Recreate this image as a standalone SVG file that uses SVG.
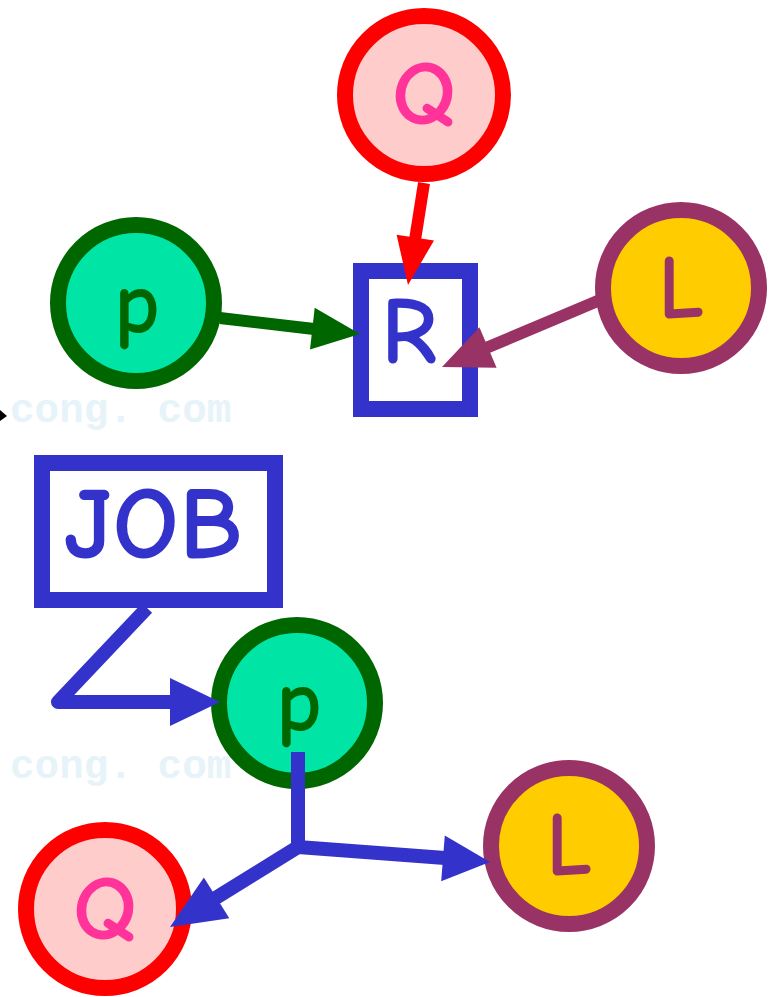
<svg xmlns="http://www.w3.org/2000/svg" width="774" height="997" viewBox="0 0 774 997">
<style>
.lbl{font-family:"Comic Sans MS","Comic Neue","DejaVu Sans",sans-serif;font-weight:bold;text-anchor:middle}
.wm{font-family:"Liberation Mono","DejaVu Sans Mono",monospace;font-size:41px;font-weight:bold;fill:#e6f3f9}
.qc{fill:#ffcccc;stroke:#ff0000;stroke-width:16}
.pc{fill:#00e5a6;stroke:#006600;stroke-width:16}
.lc{fill:#ffcc00;stroke:#993366;stroke-width:16}
.box{fill:#ffffff;stroke:#3333cc;stroke-width:16}
.blue{stroke:#3333cc;stroke-width:14;fill:none;stroke-linejoin:round}
</style>
<rect width="774" height="997" fill="#ffffff"/>
<text class="wm" x="10" y="422">cong. com</text>
<text class="wm" x="10" y="778">cong. com</text>
<polygon points="0,410 7,416 0,421" fill="#000000"/>

<g id="nodeQtop">
  <circle class="qc" cx="424" cy="95" r="79"/>
  <text class="lbl" x="424" y="124" font-size="92" fill="#ff3399">Q</text>
</g>
<g id="nodeR">
  <rect class="box" x="361" y="271" width="109" height="138"/>
  <text class="lbl" x="409" y="363" font-size="96" fill="#3333cc">R</text>
</g>
<g id="nodePtop">
  <circle class="pc" cx="136" cy="303" r="78"/>
  <text class="lbl" x="137" y="333" font-size="88" fill="#006600">p</text>
</g>
<g id="nodeLtop">
  <circle class="lc" cx="681" cy="288" r="78"/>
  <text class="lbl" x="681" y="318" font-size="90" fill="#993366">L</text>
</g>
<g id="nodeJOB">
  <rect class="box" x="42" y="463" width="233" height="137"/>
  <text class="lbl" x="153" y="558" font-size="104" fill="#3333cc">JOB</text>
</g>
<g id="nodePbot">
  <circle class="pc" cx="297" cy="703" r="78"/>
  <text class="lbl" x="299" y="731" font-size="88" fill="#006600">p</text>
</g>
<g id="nodeLbot">
  <circle class="lc" cx="569" cy="846" r="78"/>
  <text class="lbl" x="569" y="875" font-size="90" fill="#993366">L</text>
</g>
<g id="nodeQbot">
  <circle class="qc" cx="105" cy="909" r="79"/>
  <text class="lbl" x="105" y="939" font-size="92" fill="#ff3399">Q</text>
</g>

<g id="connectors">
  <line x1="424" y1="183" x2="415" y2="240" stroke="#ff0000" stroke-width="12"/>
  <polygon points="408,285 434,240.5 396.6,234.7" fill="#ff0000"/>
  <line x1="220" y1="318" x2="314" y2="329" stroke="#006600" stroke-width="12"/>
  <polygon points="360,334 310,349.5 314.7,307.7" fill="#006600"/>
  <line x1="600" y1="300" x2="486" y2="348" stroke="#993366" stroke-width="12"/>
  <polygon points="442,367 496.6,367.8 479.4,327.2" fill="#993366"/>
  <polyline class="blue" points="147,608 58,702 175,702"/>
  <polygon points="220,702 170,678 170,726" fill="#3333cc"/>
  <polyline class="blue" points="298,752 298,847 445,858"/>
  <polygon points="490,862 441.2,881.2 444.8,835.4" fill="#3333cc"/>
  <line x1="298" y1="847" x2="214" y2="899" class="blue"/>
  <polygon points="170,927 229.3,918.2 203.9,877.5" fill="#3333cc"/>
</g>
</svg>
